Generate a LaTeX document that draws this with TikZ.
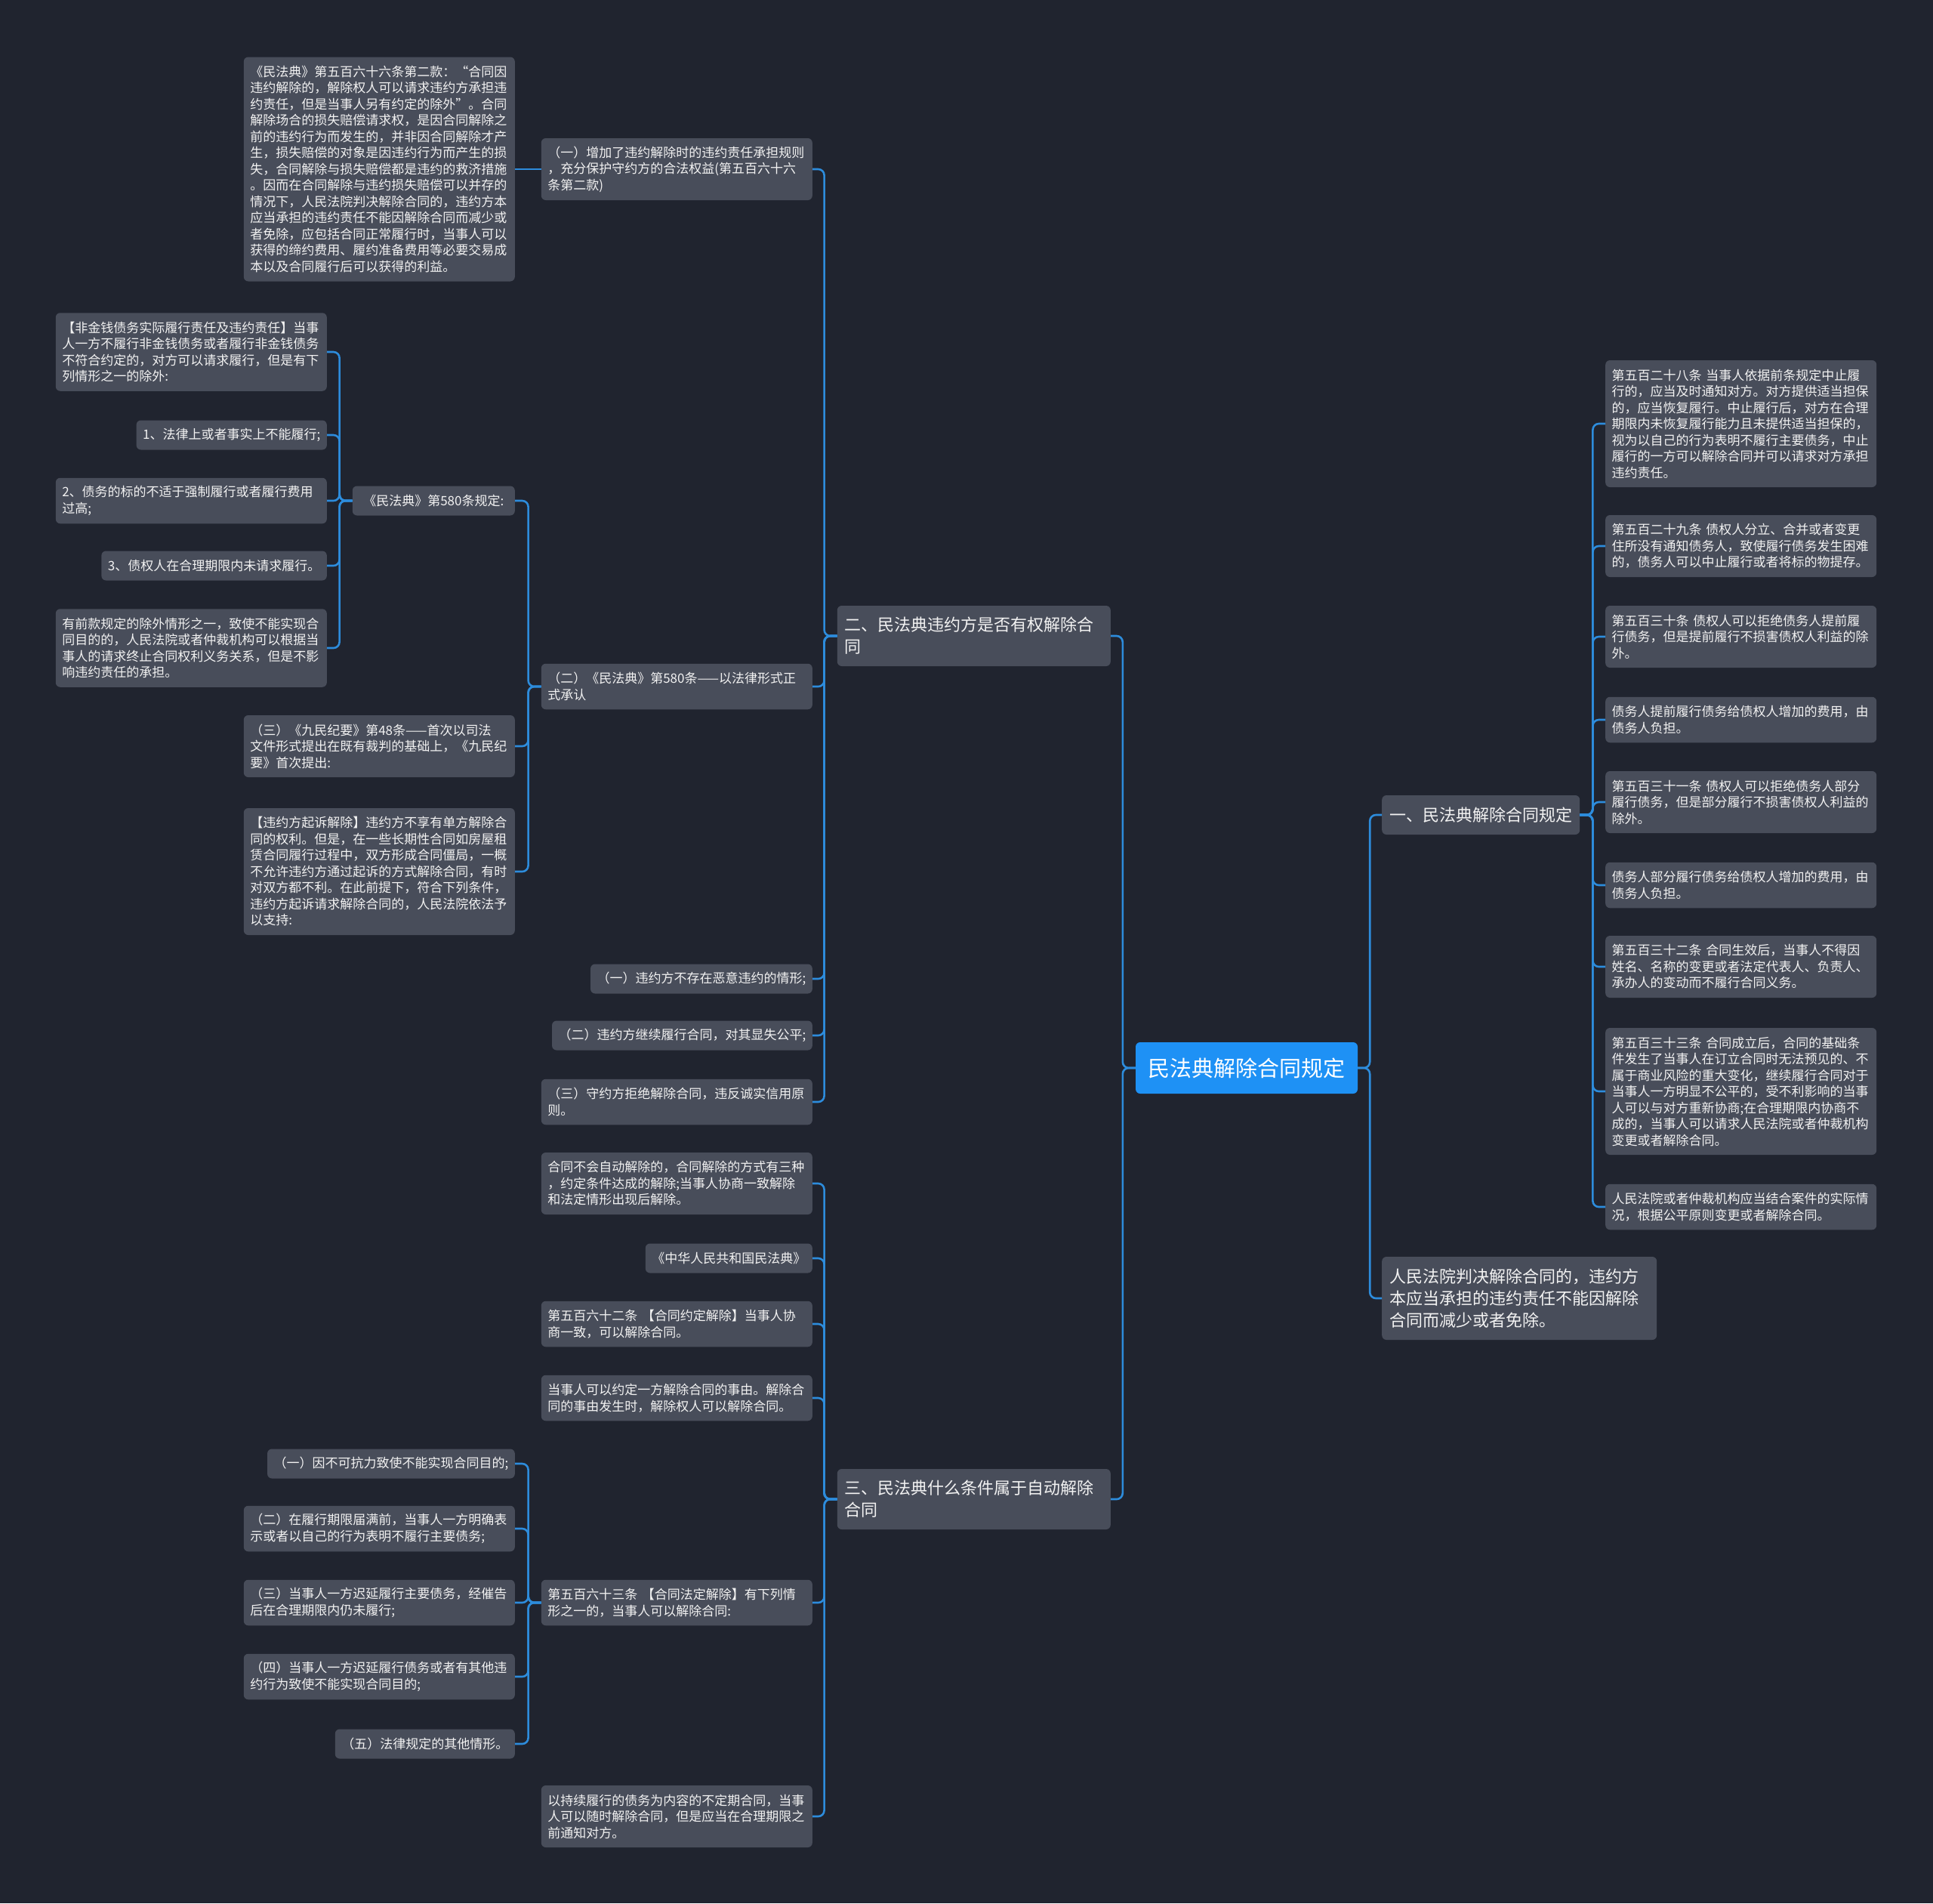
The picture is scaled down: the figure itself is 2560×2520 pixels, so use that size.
\documentclass[tikz,border=0pt]{standalone}
\usepackage{fontspec}
\setmainfont{Noto Sans CJK SC}
\definecolor{bg}{RGB}{32,36,47}
\definecolor{boxc}{RGB}{72,77,90}
\definecolor{linec}{RGB}{45,140,220}
\definecolor{rootc}{RGB}{30,145,245}
\definecolor{txt}{RGB}{242,242,242}
\tikzset{
  leaf/.style={fill=boxc, rounded corners=6pt, text=txt, font=\fontsize{17}{21.5}\selectfont, inner xsep=8.5pt, inner ysep=2pt, align=left},
  multi/.style={leaf, text width=342pt},
  nl/.style={minimum height={17.5+21.5*#1}},
  topic/.style={fill=boxc, rounded corners=6pt, text=txt, font=\fontsize{22}{29}\selectfont, inner xsep=10pt, inner ysep=2pt, align=left},
  rootnode/.style={fill=rootc, rounded corners=6pt, text=white, font=\fontsize{29}{34}\selectfont, minimum width=294pt, minimum height=68pt, inner sep=0pt},
  conn/.style={draw=linec, line width=2.6pt, rounded corners=8pt},
}
\begin{document}
\begin{tikzpicture}[x=1pt,y=-1pt]
\useasboundingbox (0,0) rectangle (2560,2520);
\fill[bg] (0,0) rectangle (2560,2520);

% root
\node[rootnode] (root) at (1651,1414) {民法典解除合同规定};

% level 1
\node[topic, text width=342pt, minimum height=80pt, anchor=east] (L2) at (1471,842) {二、民法典违约方是否有权解除合\\同};
\node[topic, text width=342pt, minimum height=80pt, anchor=east] (L3) at (1471,1985) {三、民法典什么条件属于自动解除\\合同};
\node[topic, minimum height=52pt, anchor=west] (L1) at (1830,1079) {一、民法典解除合同规定};
\node[topic, text width=344pt, minimum height=110pt, anchor=west] (L4) at (1830,1719) {人民法院判决解除合同的，违约方\\本应当承担的违约责任不能因解除\\合同而减少或者免除。};

% children of L2
\node[multi, nl=3, anchor=east] (a1) at (1076,224) {（一）增加了违约解除时的违约责任承担规则\\，充分保护守约方的合法权益(第五百六十六\\条第二款)};
\node[multi, nl=2, anchor=east] (a2) at (1076,909) {（二）《民法典》第580条——以法律形式正\\式承认};
\node[leaf, nl=1, anchor=east] (a3) at (1076,1296) {（一）违约方不存在恶意违约的情形;};
\node[leaf, nl=1, anchor=east] (a4) at (1076,1371) {（二）违约方继续履行合同，对其显失公平;};
\node[multi, nl=2, anchor=east] (a5) at (1076,1459) {（三）守约方拒绝解除合同，违反诚实信用原\\则。};

% child of a1
\node[multi, nl=13, anchor=east] (b1) at (682,224) {《民法典》第五百六十六条第二款：“合同因\\违约解除的，解除权人可以请求违约方承担违\\约责任，但是当事人另有约定的除外”。合同\\解除场合的损失赔偿请求权，是因合同解除之\\前的违约行为而发生的，并非因合同解除才产\\生，损失赔偿的对象是因违约行为而产生的损\\失，合同解除与损失赔偿都是违约的救济措施\\。因而在合同解除与违约损失赔偿可以并存的\\情况下，人民法院判决解除合同的，违约方本\\应当承担的违约责任不能因解除合同而减少或\\者免除，应包括合同正常履行时，当事人可以\\获得的缔约费用、履约准备费用等必要交易成\\本以及合同履行后可以获得的利益。};

% children of a2
\node[leaf, nl=1, minimum width=215pt, anchor=east] (b2) at (682,663) {《民法典》第580条规定:};
\node[multi, nl=3, anchor=east] (b3) at (682,988) {（三）《九民纪要》第48条——首次以司法\\文件形式提出在既有裁判的基础上，《九民纪\\要》首次提出:};
\node[multi, nl=7, anchor=east] (b4) at (682,1154) {【违约方起诉解除】违约方不享有单方解除合\\同的权利。但是，在一些长期性合同如房屋租\\赁合同履行过程中，双方形成合同僵局，一概\\不允许违约方通过起诉的方式解除合同，有时\\对双方都不利。在此前提下，符合下列条件，\\违约方起诉请求解除合同的，人民法院依法予\\以支持:};

% children of b2
\node[multi, nl=4, anchor=east] (c1) at (433,466) {【非金钱债务实际履行责任及违约责任】当事\\人一方不履行非金钱债务或者履行非金钱债务\\不符合约定的，对方可以请求履行，但是有下\\列情形之一的除外:};
\node[leaf, nl=1, anchor=east] (c2) at (433,576) {1、法律上或者事实上不能履行;};
\node[multi, nl=2, anchor=east] (c3) at (433,663) {2、债务的标的不适于强制履行或者履行费用\\过高;};
\node[leaf, nl=1, anchor=east] (c4) at (433,749) {3、债权人在合理期限内未请求履行。};
\node[multi, nl=4, anchor=east] (c5) at (433,858) {有前款规定的除外情形之一，致使不能实现合\\同目的的，人民法院或者仲裁机构可以根据当\\事人的请求终止合同权利义务关系，但是不影\\响违约责任的承担。};

% children of L3
\node[multi, nl=3, anchor=east] (d1) at (1076,1567) {合同不会自动解除的，合同解除的方式有三种\\，约定条件达成的解除;当事人协商一致解除\\和法定情形出现后解除。};
\node[leaf, nl=1, anchor=east] (d2) at (1076,1666) {《中华人民共和国民法典》};
\node[multi, nl=2, anchor=east] (d3) at (1076,1753) {第五百六十二条~【合同约定解除】当事人协\\商一致，可以解除合同。};
\node[multi, nl=2, anchor=east] (d4) at (1076,1851) {当事人可以约定一方解除合同的事由。解除合\\同的事由发生时，解除权人可以解除合同。};
\node[multi, nl=2, anchor=east] (d5) at (1076,2122) {第五百六十三条~【合同法定解除】有下列情\\形之一的，当事人可以解除合同:};
\node[multi, nl=3, anchor=east] (d6) at (1076,2405) {以持续履行的债务为内容的不定期合同，当事\\人可以随时解除合同，但是应当在合理期限之\\前通知对方。};

% children of d5
\node[leaf, nl=1, anchor=east] (e1) at (682,1938) {（一）因不可抗力致使不能实现合同目的;};
\node[multi, nl=2, anchor=east] (e2) at (682,2024) {（二）在履行期限届满前，当事人一方明确表\\示或者以自己的行为表明不履行主要债务;};
\node[multi, nl=2, anchor=east] (e3) at (682,2122) {（三）当事人一方迟延履行主要债务，经催告\\后在合理期限内仍未履行;};
\node[multi, nl=2, anchor=east] (e4) at (682,2220) {（四）当事人一方迟延履行债务或者有其他违\\约行为致使不能实现合同目的;};
\node[leaf, nl=1, anchor=east] (e5) at (682,2309) {（五）法律规定的其他情形。};

% children of L1
\node[multi, nl=7, anchor=west] (r1) at (2126,561) {第五百二十八条~当事人依据前条规定中止履\\行的，应当及时通知对方。对方提供适当担保\\的，应当恢复履行。中止履行后，对方在合理\\期限内未恢复履行能力且未提供适当担保的，\\视为以自己的行为表明不履行主要债务，中止\\履行的一方可以解除合同并可以请求对方承担\\违约责任。};
\node[multi, nl=3, anchor=west] (r2) at (2126,723) {第五百二十九条~债权人分立、合并或者变更\\住所没有通知债务人，致使履行债务发生困难\\的，债务人可以中止履行或者将标的物提存。};
\node[multi, nl=3, anchor=west] (r3) at (2126,843) {第五百三十条~债权人可以拒绝债务人提前履\\行债务，但是提前履行不损害债权人利益的除\\外。};
\node[multi, nl=2, anchor=west] (r4) at (2126,953) {债务人提前履行债务给债权人增加的费用，由\\债务人负担。};
\node[multi, nl=3, anchor=west] (r5) at (2126,1062) {第五百三十一条~债权人可以拒绝债务人部分\\履行债务，但是部分履行不损害债权人利益的\\除外。};
\node[multi, nl=2, anchor=west] (r6) at (2126,1172) {债务人部分履行债务给债权人增加的费用，由\\债务人负担。};
\node[multi, nl=3, anchor=west] (r7) at (2126,1280) {第五百三十二条~合同生效后，当事人不得因\\姓名、名称的变更或者法定代表人、负责人、\\承办人的变动而不履行合同义务。};
\node[multi, nl=7, anchor=west] (r8) at (2126,1445) {第五百三十三条~合同成立后，合同的基础条\\件发生了当事人在订立合同时无法预见的、不\\属于商业风险的重大变化，继续履行合同对于\\当事人一方明显不公平的，受不利影响的当事\\人可以与对方重新协商;在合理期限内协商不\\成的，当事人可以请求人民法院或者仲裁机构\\变更或者解除合同。};
\node[multi, nl=2, anchor=west] (r9) at (2126,1598) {人民法院或者仲裁机构应当结合案件的实际情\\况，根据公平原则变更或者解除合同。};

% connectors
\foreach \c in {L2,L3} \draw[conn] (root.west) -- ++(-17,0) |- (\c.east);
\foreach \c in {L1,L4} \draw[conn] (root.east) -- ++(16,0) |- (\c.west);
\foreach \c in {a1,a2,a3,a4,a5} \draw[conn] (L2.west) -- ++(-17,0) |- (\c.east);
\draw[conn] (a1.west) -- (b1.east);
\foreach \c in {b2,b3,b4} \draw[conn] (a2.west) -- ++(-17,0) |- (\c.east);
\foreach \c in {c1,c2,c3,c4,c5} \draw[conn] (b2.west) -- ++(-17,0) |- (\c.east);
\foreach \c in {d1,d2,d3,d4,d5,d6} \draw[conn] (L3.west) -- ++(-17,0) |- (\c.east);
\foreach \c in {e1,e2,e3,e4,e5} \draw[conn] (d5.west) -- ++(-17,0) |- (\c.east);
\foreach \c in {r1,r2,r3,r4,r5,r6,r7,r8,r9} \draw[conn] (L1.east) -- ++(17,0) |- (\c.west);
\end{tikzpicture}
\end{document}
